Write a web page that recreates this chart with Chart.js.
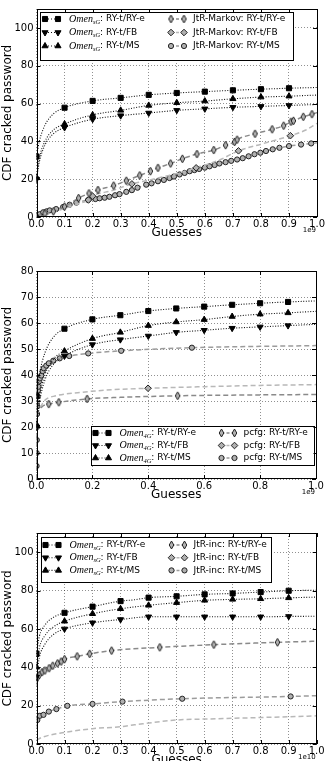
<!DOCTYPE html>
<html>
<head>
<meta charset="utf-8">
<script src="https://cdn.jsdelivr.net/npm/chart.js@4.4.0/dist/chart.umd.min.js"></script>
<style>
  html, body { margin: 0; padding: 0; background: #fff; overflow: hidden; width: 326px; height: 761px; }
  .wrap { position: absolute; left: 0; width: 326px; }
  canvas { display: block; }
</style>
</head>
<body>
<div class="wrap" style="top:0"><canvas id="c1" width="326" height="250"></canvas></div>
<div class="wrap" style="top:250px"><canvas id="c2" width="326" height="258"></canvas></div>
<div class="wrap" style="top:508px"><canvas id="c3" width="326" height="280"></canvas></div>
<script>
// x values are in the units printed on the axis (1e9, 1e9, 1e10 guesses), y in % cracked

// --- panel 1 : Omen vs JtR-Markov
const omenE = [[0,32],[0.01,40],[0.03,48.5],[0.06,54.5],[0.1,57.8],[0.2,61.4],[0.3,63],[0.4,64.6],[0.5,65.6],[0.6,66.3],[0.7,67],[0.8,67.6],[0.9,68.1],[1.0,68.5]];
const omenFB = [[0,20],[0.01,29],[0.03,38],[0.06,44],[0.1,47.3],[0.2,51.7],[0.3,53.6],[0.4,55],[0.5,56.4],[0.6,57.2],[0.7,58],[0.8,58.5],[0.9,59],[1.0,59.5]];
const omenMS = [[0,21],[0.01,31],[0.03,40],[0.06,46],[0.1,49.2],[0.2,54],[0.3,56.4],[0.4,59],[0.5,60.4],[0.6,61.3],[0.7,62.5],[0.8,63.4],[0.9,63.9],[1.0,64.5]];

const markovE = [[0,0.5],[0.03,1.8],[0.06,3],[0.1,5.5],[0.15,10],[0.187,12.5],[0.219,14.3],[0.275,16.6],[0.32,19.2],[0.368,22],[0.406,24.2],[0.433,26],[0.478,28.3],[0.52,30.8],[0.572,33.3],[0.632,35.4],[0.674,38],[0.706,39.7],[0.715,40.9],[0.779,44],[0.84,46.4],[0.881,48.3],[0.907,50.4],[0.916,50.9],[0.951,53],[0.982,54.4],[1.0,55.2]];
const markovFB = [[0,0],[0.05,2],[0.1,4.5],[0.15,7],[0.185,9],[0.2,11],[0.27,14],[0.34,17.5],[0.4,19.5],[0.5,23],[0.569,26],[0.65,30],[0.72,35],[0.8,38.5],[0.905,43],[0.96,46],[1.0,49.5]];
const markovFBMarks = [0.185, 0.2, 0.34, 0.569, 0.72, 0.905];
const markovMS = [[0,0.8],[0.012,1.5],[0.024,2.5],[0.036,3],[0.047,3.5],[0.07,4.2],[0.095,5.3],[0.118,6.5],[0.142,7.6],[0.184,9],[0.21,9.5],[0.225,9.9],[0.243,10.2],[0.26,10.7],[0.28,11.5],[0.296,12.1],[0.32,13.3],[0.34,14.2],[0.36,15.5],[0.391,17.1],[0.41,17.8],[0.433,18.9],[0.454,19.6],[0.474,20.6],[0.49,21.4],[0.51,22.5],[0.528,23.3],[0.546,24.2],[0.563,24.8],[0.58,25.4],[0.6,26.1],[0.617,26.8],[0.635,27.5],[0.652,28.3],[0.674,29],[0.694,29.7],[0.715,30.4],[0.735,31.1],[0.756,32.1],[0.777,33.2],[0.798,34],[0.818,34.9],[0.842,35.8],[0.866,36.6],[0.9,37.5],[0.943,38.3],[0.979,38.9],[1.0,39.2]];

// --- panel 2 : Omen (same runs) vs pcfg
const pcfgE = [[0,0],[0.001,20],[0.004,25],[0.02,27.8],[0.044,28.8],[0.08,29.5],[0.181,30.8],[0.3,31.4],[0.505,32],[0.75,32.3],[1.0,32.5]];
const pcfgEMarks = [0.044, 0.08, 0.181, 0.505];
const pcfgFB = [[0,0],[0.002,22],[0.01,27],[0.03,30.3],[0.07,32],[0.157,33.3],[0.25,34.2],[0.399,34.9],[0.6,35.5],[0.8,36],[1.0,36.3]];
const pcfgFBMarks = [0.399];
const pcfgMS = [[0,0],[0.0003,5],[0.0006,10],[0.001,15],[0.0015,20],[0.002,25],[0.003,28],[0.004,31.7],[0.005,34],[0.007,35.5],[0.009,37.5],[0.012,38.7],[0.017,39.8],[0.022,41.5],[0.026,42.6],[0.035,43.6],[0.044,44.5],[0.06,45.5],[0.083,46.4],[0.117,47.3],[0.185,48.3],[0.303,49.3],[0.556,50.5],[1.0,51.3]];

// --- panel 3 : Omen vs JtR-inc
const omen3E = [[0,47],[0.01,56],[0.03,62],[0.06,66],[0.1,68.4],[0.2,71.6],[0.3,74.5],[0.35,75.2],[0.4,76.3],[0.5,77],[0.6,78],[0.7,78.5],[0.8,79.2],[0.9,79.9],[1.0,80.2]];
const omen3FB = [[0,35],[0.01,45],[0.03,52],[0.06,57],[0.1,60],[0.2,63.2],[0.3,64.9],[0.4,66.3],[0.5,66.3],[0.6,66.3],[0.7,66.3],[0.8,66.3],[0.9,66.5],[1.0,66.6]];
const omen3MS = [[0,40],[0.01,50],[0.03,56.5],[0.06,61],[0.1,64],[0.2,67.9],[0.3,70.5],[0.4,72.3],[0.5,73.7],[0.6,74.9],[0.7,75.4],[0.8,75.7],[0.9,76.2],[1.0,76.6]];
const incE = [[0,30],[0.003,34.5],[0.01,36],[0.02,37.5],[0.03,38.3],[0.045,39.5],[0.058,40.8],[0.075,42],[0.088,43],[0.1,44.2],[0.145,45.7],[0.19,47],[0.268,48.7],[0.44,50.4],[0.633,51.8],[0.86,53],[1.0,53.6]];
const incFB = [[0,2],[0.02,3.5],[0.1,6],[0.2,8],[0.3,9],[0.35,10],[0.5,12.5],[0.6,13],[0.7,13.4],[0.8,13.8],[0.9,14.2],[1.0,14.7]];
const incMS = [[0,8],[0.003,12.5],[0.012,14.7],[0.025,15.2],[0.044,16.9],[0.071,18.2],[0.11,19.9],[0.2,20.9],[0.307,22.1],[0.52,23.6],[0.907,24.8],[1.0,25.2]];

const targets = ['RY-t/RY-e', 'RY-t/FB', 'RY-t/MS'];
const yTicks13 = [0, 20, 40, 60, 80, 100];
const yTicks2 = [0, 10, 20, 30, 40, 50, 60, 70, 80];

// ---- marker / line looks
function thinDiamond() {
    const c = document.createElement('canvas');
    c.width = 7; c.height = 10;
    const g = c.getContext('2d');
    g.beginPath();
    g.moveTo(3.5, 1); g.lineTo(5.8, 5); g.lineTo(3.5, 9); g.lineTo(1.2, 5); g.closePath();
    g.fillStyle = '#b0b0b0'; g.fill();
    g.strokeStyle = '#222'; g.lineWidth = 1; g.stroke();
    return c;
}
const TD = thinDiamond();
const mk = {
    sq:   { style: 'rect', r: 3.6, fill: '#000', edge: '#000' },
    down: { style: 'triangle', rot: 180, r: 3.5, fill: '#000', edge: '#000' },
    up:   { style: 'triangle', r: 3.5, fill: '#000', edge: '#000' },
    thin: { style: TD, r: 3, fill: '#b0b0b0', edge: '#222' },
    thick:{ style: 'rectRot', r: 3.3, fill: '#b0b0b0', edge: '#222' },
    circ: { style: 'circle', r: 2.6, fill: '#b0b0b0', edge: '#222' },
};
const ln = {
    dot:  { color: '#111', width: 1.1, dash: [1, 1.6] },
    dE:   { color: '#8a8a8a', width: 1.5, dash: [5, 3] },
    dFB:  { color: '#b8b8b8', width: 1.5, dash: [5, 3] },
    dMS:  { color: '#9c9c9c', width: 1.5, dash: [5, 3] },
};

const near = (a, b) => Math.abs(a - b) < 1e-6;
const tenths = (p) => p[0] < 0.999 && near(p[0] * 10, Math.round(p[0] * 10));
const allButLast = (p, i, n) => i < n - 1;
const inner = (p, i, n) => i > 0 && i < n - 1;
const at = (xs) => (p) => xs.some((x) => near(x, p[0]));

function omenSeries(pts, t, sub) {
    const m = [mk.sq, mk.down, mk.up][t];
    return { pts, m, l: ln.dot, marks: tenths, label: [{ it: 'Omen' }, { sub }, { t: ': ' + targets[t] }] };
}
function otherSeries(pts, t, name, marks) {
    const m = [mk.thin, mk.thick, mk.circ][t];
    const l = [ln.dE, ln.dFB, ln.dMS][t];
    return { pts, m, l, marks, label: [{ t: name + ': ' + targets[t] }] };
}

// ---- drawing helpers for the legend
function drawMarker(ctx, m, x, y) {
    if (typeof m.style !== 'string') {
        ctx.drawImage(m.style, x - m.style.width / 2, y - m.style.height / 2);
        return;
    }
    ctx.save();
    ctx.fillStyle = m.fill; ctx.strokeStyle = m.edge; ctx.lineWidth = 1;
    ctx.beginPath();
    const r = m.r;
    if (m.style === 'rect') {
        const s = r * Math.SQRT1_2;
        ctx.rect(x - s, y - s, 2 * s, 2 * s);
    } else if (m.style === 'triangle') {
        const d = m.rot ? -1 : 1;
        ctx.moveTo(x, y - d * r);
        ctx.lineTo(x + r * 0.866, y + d * r * 0.5);
        ctx.lineTo(x - r * 0.866, y + d * r * 0.5);
        ctx.closePath();
    } else if (m.style === 'rectRot') {
        ctx.moveTo(x, y - r); ctx.lineTo(x + r, y); ctx.lineTo(x, y + r); ctx.lineTo(x - r, y); ctx.closePath();
    } else {
        ctx.arc(x, y, r, 0, Math.PI * 2);
    }
    ctx.fill(); ctx.stroke();
    ctx.restore();
}

const decor = {
    id: 'decor',
    afterDraw(chart, args, o) {
        const { ctx, chartArea: a, scales } = chart;
        ctx.save();
        ctx.strokeStyle = '#000';
        ctx.lineWidth = 1;
        // inward tick marks on all four sides
        ctx.beginPath();
        scales.x.ticks.forEach((t) => {
            const x = Math.round(scales.x.getPixelForValue(t.value)) + 0.5;
            ctx.moveTo(x, a.bottom); ctx.lineTo(x, a.bottom - 4);
            ctx.moveTo(x, a.top); ctx.lineTo(x, a.top + 4);
        });
        scales.y.ticks.forEach((t) => {
            const y = Math.round(scales.y.getPixelForValue(t.value)) + 0.5;
            ctx.moveTo(a.left, y); ctx.lineTo(a.left + 4, y);
            ctx.moveTo(a.right, y); ctx.lineTo(a.right - 4, y);
        });
        ctx.stroke();
        ctx.strokeRect(Math.round(a.left) + 0.5, Math.round(a.top) + 0.5, Math.round(a.width) - 1, Math.round(a.height) - 1);

        // offset text under the right end of the x axis
        ctx.fillStyle = '#000';
        ctx.font = '7px "DejaVu Sans"';
        ctx.textAlign = 'right';
        ctx.textBaseline = 'middle';
        ctx.fillText(o.offset, a.right - 1, a.bottom + 13);

        // legend box
        const L = o.legend;
        const bx = a.left + L.x, by = a.top + L.y;
        ctx.fillStyle = '#fff';
        ctx.fillRect(bx, by, L.w, L.h);
        ctx.strokeStyle = '#000';
        ctx.strokeRect(Math.round(bx) + 0.5, Math.round(by) + 0.5, L.w, L.h);
        o.series.forEach((s, i) => {
            const col = Math.floor(i / 3), row = i % 3;
            const cx = bx + (col ? 131 : 5);
            const tx = bx + (col ? 153 : 29);
            const y = by + L.row0 + row * L.gap;
            ctx.save();
            ctx.strokeStyle = s.l.color; ctx.lineWidth = s.l.width;
            ctx.setLineDash(col ? [3, 2] : [1, 2]);
            ctx.beginPath(); ctx.moveTo(cx, y); ctx.lineTo(cx + 13, y); ctx.stroke();
            ctx.restore();
            drawMarker(ctx, s.m, cx, y);
            drawMarker(ctx, s.m, cx + 13, y);
            let x = tx;
            ctx.textAlign = 'left';
            ctx.textBaseline = 'middle';
            ctx.fillStyle = '#000';
            s.label.forEach((part) => {
                if (part.it) {
                    ctx.font = 'italic 10px "Liberation Serif"';
                    ctx.fillText(part.it, x, y);
                    x += ctx.measureText(part.it).width;
                } else if (part.sub) {
                    ctx.font = 'italic 6.5px "Liberation Serif"';
                    ctx.fillText(part.sub, x, y + 3);
                    x += ctx.measureText(part.sub).width;
                } else {
                    ctx.font = '9px "DejaVu Sans"';
                    ctx.fillText(part.t, x, y);
                    x += ctx.measureText(part.t).width;
                }
            });
        });
        ctx.restore();
    },
};

function makeChart(id, p) {
    const datasets = p.series.map((s) => ({
        data: s.pts.map((q) => ({ x: q[0], y: q[1] })),
        borderColor: s.l.color,
        borderWidth: s.l.width,
        borderDash: s.l.dash,
        pointStyle: s.m.style,
        pointRotation: s.m.rot || 0,
        pointBackgroundColor: s.m.fill,
        pointBorderColor: s.m.edge,
        pointBorderWidth: 1,
        pointRadius: (c) => (s.marks(s.pts[c.dataIndex], c.dataIndex, s.pts.length) ? s.m.r : 0),
        cubicInterpolationMode: 'monotone',
        fill: false,
    }));
    const font = { family: '"DejaVu Sans"', size: 10 };
    return new Chart(document.getElementById(id), {
        type: 'line',
        data: { datasets },
        plugins: [decor],
        options: {
            responsive: false,
            animation: false,
            events: [],
            layout: { padding: { top: p.top, bottom: p.bottom, left: 0, right: p.right } },
            plugins: {
                legend: { display: false },
                tooltip: { enabled: false },
                decor: { offset: p.offset, legend: p.legend, series: p.series },
            },
            scales: {
                x: {
                    type: 'linear', min: 0, max: 1,
                    afterFit: (s) => { s.height = 24; },
                    afterBuildTicks: (s) => { s.ticks = p.xTicks.map((v) => ({ value: v })); },
                    ticks: { font, color: '#000', padding: 1, maxRotation: 0, callback: (v) => v.toFixed(1) },
                    grid: { color: 'rgba(0,0,0,0.55)', lineWidth: 0.8, drawTicks: false },
                    border: { display: false, dash: [1, 2] },
                    title: { display: true, text: 'Guesses', color: '#000', font: { family: '"DejaVu Sans"', size: 12 }, padding: { top: 0, bottom: 1 } },
                },
                y: {
                    type: 'linear', min: 0, max: p.yMax,
                    afterFit: (s) => { s.width = 36.5; },
                    afterBuildTicks: (s) => { s.ticks = p.yTicks.map((v) => ({ value: v })); },
                    ticks: { font, color: '#000', padding: 3 },
                    grid: { color: 'rgba(0,0,0,0.55)', lineWidth: 0.8, drawTicks: false },
                    border: { display: false, dash: [1, 2] },
                    title: { display: true, text: 'CDF cracked password', color: '#000', font: { family: '"DejaVu Sans"', size: 12 }, padding: { top: 1, bottom: 0 } },
                },
            },
        },
    });
}

const x10 = [0, 0.1, 0.2, 0.3, 0.4, 0.5, 0.6, 0.7, 0.8, 0.9, 1.0];
const x5 = [0, 0.2, 0.4, 0.6, 0.8, 1.0];

makeChart('c1', {
    top: 7, bottom: 9, right: 8.5, yMax: 110, yTicks: yTicks13, xTicks: x10, offset: '1e9',
    legend: { x: 3.5, y: 3, w: 253, h: 48, row0: 7, gap: 13.5 },
    series: [
        omenSeries(omenE, 0, 'sG'), omenSeries(omenFB, 1, 'sG'), omenSeries(omenMS, 2, 'sG'),
        otherSeries(markovE, 0, 'JtR-Markov', allButLast),
        otherSeries(markovFB, 1, 'JtR-Markov', at(markovFBMarks)),
        otherSeries(markovMS, 2, 'JtR-Markov', allButLast),
    ],
});

makeChart('c2', {
    top: 21, bottom: 5, right: 10, yMax: 80, yTicks: yTicks2, xTicks: x5, offset: '1e9',
    legend: { x: 54, y: 155, w: 223, h: 39, row0: 7, gap: 12.5 },
    series: [
        omenSeries(omenE, 0, '4G'), omenSeries(omenFB, 1, '4G'), omenSeries(omenMS, 2, '4G'),
        otherSeries(pcfgE, 0, 'pcfg', at(pcfgEMarks)),
        otherSeries(pcfgFB, 1, 'pcfg', at(pcfgFBMarks)),
        otherSeries(pcfgMS, 2, 'pcfg', inner),
    ],
});

makeChart('c3', {
    top: 25, bottom: 20, right: 9.3, yMax: 110, yTicks: yTicks13, xTicks: x10, offset: '1e10',
    legend: { x: 4, y: 4, w: 230, h: 45, row0: 8, gap: 12.7 },
    series: [
        omenSeries(omen3E, 0, 'sG'), omenSeries(omen3FB, 1, 'sG'), omenSeries(omen3MS, 2, 'sG'),
        otherSeries(incE, 0, 'JtR-inc', inner),
        otherSeries(incFB, 1, 'JtR-inc', () => false),
        otherSeries(incMS, 2, 'JtR-inc', inner),
    ],
});
</script>
</body>
</html>
